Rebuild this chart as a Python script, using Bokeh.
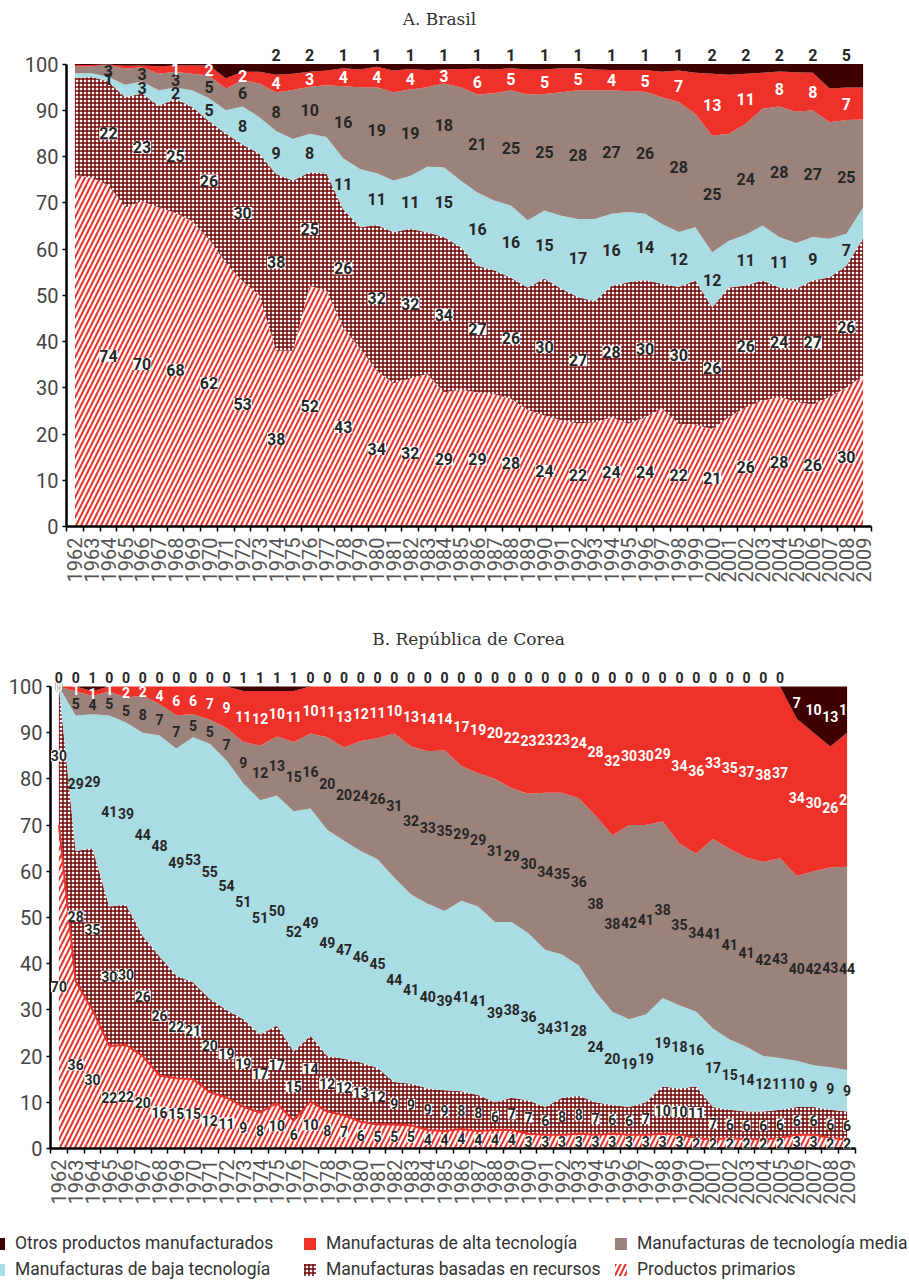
import math
from bokeh.plotting import figure
from bokeh.models import ColumnDataSource, LabelSet, Label, Range1d, FixedTicker, Legend, LegendItem
from bokeh.core.properties import value
from bokeh.embed import file_html
from bokeh.resources import INLINE

years = list(range(1962, 2010))

series_names = [
    "Productos primarios",
    "Manufacturas basadas en recursos",
    "Manufacturas de baja tecnología",
    "Manufacturas de tecnología media",
    "Manufacturas de alta tecnología",
    "Otros productos manufacturados",
]

# ---------------- A. Brasil (share, %) ----------------
br_primarios = [76.0, 75.4, 73.8, 69.0, 70.3, 69.0, 67.8, 66.0, 62.0, 57.0,
                53.0, 50.0, 38.0, 38.0, 52.0, 51.0, 43.0, 38.5, 33.6, 31.0,
                32.0, 33.0, 29.0, 29.6, 29.0, 28.6, 27.6, 25.2, 24.0, 22.9,
                22.3, 22.5, 23.6, 22.2, 23.6, 25.5, 22.2, 22.0, 21.1, 23.6,
                25.8, 27.2, 28.0, 26.9, 26.4, 28.0, 30.0, 32.6]
br_recursos = [21.0, 21.8, 22.4, 23.8, 23.3, 22.0, 24.7, 24.7, 25.6, 28.0,
               29.6, 30.6, 38.2, 36.8, 24.6, 25.3, 25.6, 26.2, 31.6, 32.6,
               32.4, 30.6, 33.6, 30.8, 27.4, 26.8, 26.2, 26.5, 29.6, 28.5,
               27.3, 26.2, 28.4, 30.6, 29.7, 27.0, 29.6, 31.2, 26.3, 28.1,
               26.3, 26.0, 23.7, 24.5, 26.8, 25.9, 26.4, 29.7]
br_baja = [1.0, 0.8, 1.0, 2.7, 2.6, 3.3, 2.4, 3.6, 5.0, 5.0,
           8.2, 7.9, 9.3, 9.0, 8.3, 7.9, 11.0, 12.6, 11.2, 11.2,
           11.4, 14.2, 15.1, 14.4, 15.8, 15.1, 15.6, 14.5, 14.7, 15.8,
           16.9, 17.8, 15.6, 15.2, 14.3, 12.9, 11.9, 11.5, 11.9, 10.1,
           11.0, 11.9, 10.9, 9.9, 9.4, 8.3, 6.9, 6.7]
br_media = [1.4, 1.5, 2.6, 3.5, 3.1, 3.6, 3.4, 3.6, 4.9, 4.7,
            5.7, 7.3, 8.4, 10.6, 10.2, 11.2, 15.6, 17.7, 18.6, 19.1,
            18.7, 17.2, 18.1, 20.2, 21.2, 23.2, 24.9, 27.2, 25.2, 26.7,
            27.8, 27.8, 26.7, 26.1, 26.4, 27.4, 28.1, 24.5, 25.2, 23.1,
            24.0, 25.2, 28.2, 28.4, 27.4, 25.2, 24.6, 19.0]
br_alta = [0.4, 0.3, 0.1, 0.6, 0.4, 1.6, 1.4, 1.8, 2.2, 2.2,
           1.8, 2.5, 3.8, 3.5, 3.2, 3.2, 3.9, 3.8, 4.4, 4.7,
           4.4, 3.7, 3.0, 3.9, 5.6, 5.1, 4.8, 5.4, 5.3, 5.2,
           4.8, 4.5, 4.4, 4.6, 4.7, 5.5, 6.8, 8.9, 13.4, 12.8,
           10.8, 7.8, 7.6, 8.5, 8.1, 7.3, 7.0, 6.9]
br_otros = [0.2, 0.2, 0.1, 0.4, 0.3, 0.5, 0.3, 0.3, 0.3, 3.1,
            1.7, 1.7, 2.3, 2.1, 1.7, 1.4, 0.9, 1.2, 0.6, 1.4,
            1.1, 1.3, 1.2, 1.1, 1.0, 1.2, 0.9, 1.2, 1.2, 0.9,
            0.9, 1.2, 1.3, 1.3, 1.3, 1.7, 1.4, 1.9, 2.1, 2.3,
            2.1, 1.9, 1.6, 1.8, 1.9, 5.3, 5.1, 5.1]
br_label_years = list(range(1964, 2009, 2))
br_first_label_year = [1964, 1964, 1964, 1964, 1968, 1974]

# ---------------- B. República de Corea (share, %) ----------------
kr_primarios = [70, 36.2, 30, 22.2, 22.4, 20, 15.8, 15.2, 15, 12.2,
                11, 9, 7.8, 9.8, 6, 10.2, 8, 7.2, 5.8, 5.2,
                5.2, 5, 4, 3.8, 4.2, 3.8, 4, 4, 3.2, 3,
                3, 3.2, 3, 3.2, 3, 3, 3.2, 3, 2.2, 2,
                2.2, 2, 2, 2.2, 3, 3, 2.2, 2]
kr_recursos = [30, 28.2, 35, 30.2, 30.4, 26, 25.8, 22.2, 21, 20.2,
               19, 19, 16.8, 16.8, 15, 14.2, 12, 12.2, 12.8, 12.2,
               9.2, 9, 9, 8.8, 8.2, 7.8, 6, 7, 7.2, 6,
               8, 8.2, 7, 6.2, 6, 7, 10.2, 10, 11.2, 7,
               6.2, 6, 6, 6.2, 6, 6, 6.2, 6]
kr_baja = [0, 29.3, 29, 41.3, 39.4, 44, 47.8, 49.2, 53, 55.2,
           54, 51, 50.8, 49.8, 52, 49.2, 49, 47.2, 45.8, 45.2,
           44.2, 41, 40, 38.8, 41.2, 40.8, 39, 38, 36.2, 34,
           31, 28.2, 24, 20.2, 19, 19, 19.2, 18, 16.2, 17,
           15.2, 14, 12, 11.2, 10, 9, 9.2, 9]
kr_media = [0, 5.2, 4, 5.2, 5.4, 8, 6.8, 7.2, 5, 5.2,
            7, 9, 11.8, 12.8, 15, 16.2, 20, 20.2, 23.8, 26.2,
            31.2, 32, 33, 34.8, 29.2, 28.8, 31, 29, 30.2, 34,
            35, 36.2, 38, 38.2, 42, 41, 38.2, 35, 34.2, 41,
            41.2, 41, 42, 43.2, 40, 42, 43.2, 44]
kr_alta = [0, 1.1, 1, 1.1, 2.4, 2, 3.8, 6.2, 6, 7.2,
           9, 11, 11.8, 9.8, 11, 10.2, 11, 13.2, 11.8, 11.2,
           10.2, 13, 14, 13.8, 17.2, 18.8, 20, 22, 23.2, 23,
           23, 24.2, 28, 32.2, 30, 30, 29.2, 34, 36.2, 33,
           35.2, 37, 38, 37.2, 34, 30, 26.2, 29]
kr_otros = [0, 0, 1, 0, 0, 0, 0, 0, 0, 0,
            0, 1, 1, 1, 1, 0, 0, 0, 0, 0,
            0, 0, 0, 0, 0, 0, 0, 0, 0, 0,
            0, 0, 0, 0, 0, 0, 0, 0, 0, 0,
            0, 0, 0, 0, 7, 10, 13, 10]
kr_label_years = years
kr_first_label_year = [1962] * 6

# ---------------- styles ----------------
DARK = "#262626"
AREA_STYLES = [
    dict(fill_color="white", hatch_pattern="/", hatch_color="#e8322b", hatch_scale=10, hatch_weight=2),
    dict(fill_color="white", hatch_pattern="+", hatch_color="#730505", hatch_scale=4, hatch_weight=1.5),
    dict(fill_color="#aadce3"),
    dict(fill_color="#9b827b"),
    dict(fill_color="#ee3129"),
    dict(fill_color="#3f0000"),
]
LABEL_COLORS = [DARK, DARK, DARK, DARK, "white", "white"]
LABEL_BG = ["white", "white", None, None, None, None]
LABEL_FONT = "Roboto"
TICK_FONT = "Roboto"
X0, X1 = years[0] - 0.5, years[-1] + 0.5


def build(title, series, label_years, first_label_year, width, height, mb_left,
          mb_bottom, frame_px, px_100, px_title, title_center_px, label_size, red_line):
    """frame_px: frame height in px; px_100: px from frame top to value 100;
    px_title: px from frame top to title centre; title_center_px: px from frame left."""
    for s in series:
        assert len(s) == len(years)
    ppu = (frame_px - px_100) / 100.0
    y_top = 100 + px_100 / ppu
    p = figure(width=width, height=height, x_range=Range1d(X0, X1),
               y_range=Range1d(0, y_top), output_backend="svg", toolbar_location=None,
               min_border_left=mb_left, min_border_right=width - mb_left - 805,
               min_border_top=0, min_border_bottom=mb_bottom)
    data = {"year": years}
    lo = [0.0] * len(years)
    for i, vals in enumerate(series):
        hi = [a + b for a, b in zip(lo, vals)]
        data["lo%d" % i] = lo
        data["hi%d" % i] = hi
        lo = hi
    src = ColumnDataSource(data)
    for i in range(len(series)):
        p.varea(x="year", y1="lo%d" % i, y2="hi%d" % i, source=src, **AREA_STYLES[i])
    if red_line:
        p.line(x="year", y="hi0", source=src, line_color="#e8322b", line_width=2)

    for i, vals in enumerate(series):
        lx, ly, lt, lc = [], [], [], []
        for k, yr in enumerate(years):
            if yr not in label_years or yr < first_label_year[i]:
                continue
            v = vals[k]
            n = int(math.floor(v + 0.5))
            if i == len(series) - 1 and v < 6:
                y = 102.0
                c = DARK
            else:
                y = data["lo%d" % i][k] + v / 2.0
                c = LABEL_COLORS[i]
            lx.append(yr)
            ly.append(y)
            lt.append(str(n))
            lc.append(c)
        ls = LabelSet(x="x", y="y", text="text", text_color="color",
                      source=ColumnDataSource(dict(x=lx, y=ly, text=lt, color=lc)),
                      text_align="center", text_baseline="middle",
                      text_font=value(LABEL_FONT), text_font_size=label_size,
                      text_font_style="bold",
                      background_fill_color=LABEL_BG[i])
        p.add_layout(ls)

    # chart title (placed above the 100 line)
    ppx = 805.0 / (X1 - X0)
    p.add_layout(Label(x=X0 + title_center_px / ppx, y=100 + (px_100 - px_title) / ppu,
                       text=title, text_align="center", text_baseline="middle",
                       text_font="DejaVu Serif", text_font_size="17px",
                       text_color="#333333"))

    p.grid.visible = False
    p.outline_line_color = None
    p.background_fill_color = "white"

    xa = p.xaxis[0]
    xa.ticker = FixedTicker(ticks=years, minor_ticks=[y - 0.5 for y in years] + [years[-1] + 0.5])
    xa.major_label_orientation = math.pi / 2
    xa.major_tick_line_color = None
    xa.major_tick_out = 0
    xa.major_tick_in = 0
    xa.minor_tick_line_color = "black"
    xa.minor_tick_line_width = 1.5
    xa.minor_tick_out = 5
    xa.minor_tick_in = 0
    xa.axis_line_width = 2.5
    xa.axis_line_color = "black"
    xa.major_label_standoff = 6
    xa.major_label_text_font = TICK_FONT
    xa.major_label_text_font_size = "20px"
    xa.major_label_text_color = "#555555"

    ya = p.yaxis[0]
    ya.ticker = FixedTicker(ticks=list(range(0, 101, 10)))
    ya.bounds = (0, 100)
    ya.axis_line_width = 2.5
    ya.axis_line_color = "black"
    ya.major_tick_out = 4
    ya.major_tick_in = 0
    ya.major_tick_line_width = 1.5
    ya.minor_tick_line_color = None
    ya.major_label_standoff = 4
    ya.major_label_text_font = TICK_FONT
    ya.major_label_text_font_size = "20px"
    ya.major_label_text_color = "#444444"
    return p


br_series = [br_primarios, br_recursos, br_baja, br_media, br_alta, br_otros]
kr_series = [kr_primarios, kr_recursos, kr_baja, kr_media, kr_alta, kr_otros]

p_br = build("A. Brasil", br_series, br_label_years, br_first_label_year,
             width=909, height=620, mb_left=66, mb_bottom=94,
             frame_px=526, px_100=63.5, px_title=18, title_center_px=373,
             label_size="16px", red_line=False)
p_kr = build("B. República de Corea", kr_series, kr_label_years, kr_first_label_year,
             width=909, height=590, mb_left=50, mb_bottom=62,
             frame_px=528, px_100=66, px_title=18, title_center_px=418,
             label_size="14px", red_line=True)

# ---------------- legend ----------------
lg = figure(width=909, height=72, x_range=Range1d(0, 1), y_range=Range1d(0, 1),
            output_backend="svg", toolbar_location=None, min_border=0,
            x_axis_type=None, y_axis_type=None)
lg.outline_line_color = None
lg.grid.visible = False
dummy = ColumnDataSource(dict(x=[5, 6], y1=[5, 5], y2=[6, 6]))
legend_order = [5, 4, 3, 2, 1, 0]
items = []
for i in legend_order:
    r = lg.varea(x="x", y1="y1", y2="y2", source=dummy, **AREA_STYLES[i])
    items.append(LegendItem(label=series_names[i], renderers=[r]))
leg = Legend(items=items, orientation="horizontal", ncols=3, location=(-9, 0),
             glyph_width=15, glyph_height=15, label_standoff=9, label_width=287,
             label_height=26, spacing=0, padding=0, margin=0,
             border_line_color=None, background_fill_alpha=0,
             label_text_font="Roboto", label_text_font_size="17.5px",
             label_text_color="#333333")
lg.add_layout(leg)

open("out.html", "w").write(file_html([p_br, p_kr, lg], INLINE))
